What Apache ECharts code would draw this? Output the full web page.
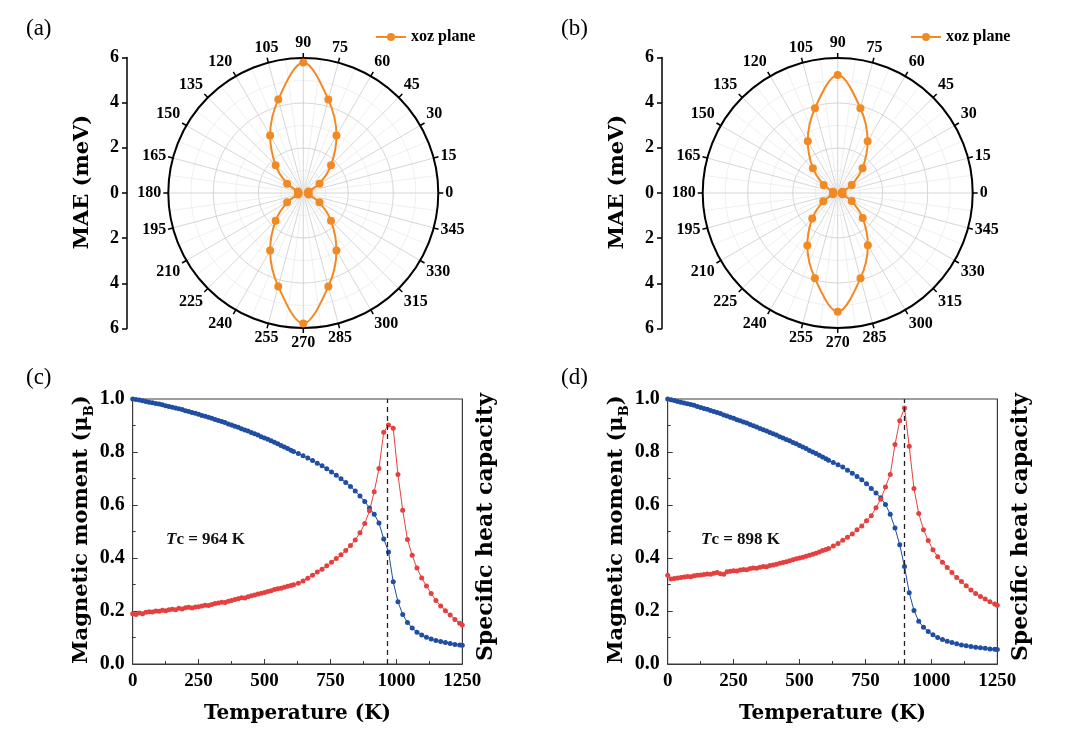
<!DOCTYPE html>
<html><head><meta charset="utf-8">
<script src="https://cdn.jsdelivr.net/npm/echarts@6/dist/echarts.min.js"></script>
<style>html,body{margin:0;padding:0;background:#fff}#c{width:1080px;height:733px}</style>
</head><body><div id="c"></div><script>
// ---------- data ----------
const angles = [0,15,30,45,60,75,90,105,120,135,150,165,180,195,210,225,240,255,270,285,300,315,330,345,360];
const maeA   = [0.2,0.25,0.83,1.74,2.95,4.3,5.8,4.3,2.95,1.74,0.83,0.25,0.2,0.25,0.83,1.74,2.95,4.3,5.8,4.3,2.95,1.74,0.83,0.25,0.2];
const maeB   = [0.18,0.22,0.72,1.56,2.66,3.9,5.25,3.9,2.66,1.56,0.72,0.22,0.18,0.22,0.74,1.6,2.7,3.92,5.28,3.92,2.68,1.57,0.72,0.22,0.18];
const angleTicks = [0,15,30,45,60,75,90,105,120,135,150,165,180,195,210,225,240,255,270,285,300,315,330,345];
const maeTicks = [6,4,2,0,2,4,6];

const temps = [0,12.5,25,37.5,50,62.5,75,87.5,100,112.5,125,137.5,150,162.5,175,187.5,200,212.5,225,237.5,250,262.5,275,287.5,300,312.5,325,337.5,350,362.5,375,387.5,400,412.5,425,437.5,450,462.5,475,487.5,500,512.5,525,537.5,550,562.5,575,587.5,600,
  610,628,646,664,682,700,718,736,754,772,790,808,826,844,862,880,898,916,934,952,970,988,1006,1024,1042,1060,1078,1096,1114,1132,1150,1168,1186,1204,1222,1240,1250];

const momentC = [1.000,0.998,0.996,0.993,0.991,0.988,0.986,0.983,0.981,0.978,0.975,0.972,0.969,0.966,0.963,0.960,0.956,0.953,0.949,0.946,0.942,0.938,0.935,0.931,0.927,0.923,0.919,0.915,0.911,0.906,0.902,0.897,0.893,0.888,0.883,0.879,0.874,0.869,0.864,0.858,0.853,0.848,0.842,0.837,0.831,0.825,0.819,0.813,0.807,
  0.802,0.794,0.786,0.777,0.768,0.758,0.748,0.737,0.725,0.712,0.699,0.685,0.670,0.653,0.634,0.613,0.589,0.565,0.532,0.472,0.423,0.310,0.235,0.187,0.157,0.136,0.120,0.109,0.101,0.094,0.089,0.085,0.081,0.077,0.074,0.072,0.071];
const heatC = [0.190,0.187,0.192,0.190,0.195,0.197,0.196,0.200,0.199,0.203,0.201,0.205,0.207,0.205,0.210,0.208,0.212,0.214,0.211,0.215,0.216,0.219,0.222,0.221,0.225,0.228,0.230,0.233,0.232,0.237,0.240,0.243,0.246,0.250,0.249,0.254,0.258,0.260,0.264,0.267,0.270,0.274,0.276,0.281,0.284,0.286,0.290,0.293,0.296,
  0.299,0.305,0.313,0.324,0.335,0.347,0.358,0.371,0.384,0.398,0.412,0.428,0.447,0.468,0.495,0.530,0.578,0.650,0.738,0.875,0.902,0.890,0.715,0.580,0.470,0.410,0.362,0.325,0.294,0.266,0.240,0.219,0.201,0.185,0.168,0.154,0.147];
const momentD = [1.000,0.997,0.994,0.991,0.988,0.985,0.982,0.979,0.976,0.972,0.968,0.964,0.961,0.957,0.953,0.949,0.945,0.940,0.936,0.931,0.927,0.922,0.918,0.913,0.909,0.904,0.899,0.894,0.889,0.884,0.879,0.874,0.869,0.864,0.858,0.853,0.847,0.842,0.836,0.831,0.825,0.819,0.813,0.806,0.800,0.794,0.788,0.781,0.775,
  0.769,0.760,0.752,0.743,0.731,0.720,0.708,0.695,0.680,0.662,0.645,0.627,0.602,0.565,0.513,0.450,0.368,0.269,0.202,0.161,0.139,0.123,0.110,0.100,0.092,0.086,0.081,0.076,0.072,0.069,0.066,0.063,0.061,0.059,0.057,0.056,0.055];
const heatD = [0.335,0.321,0.323,0.325,0.326,0.328,0.330,0.329,0.333,0.335,0.336,0.338,0.340,0.339,0.342,0.345,0.341,0.339,0.348,0.350,0.352,0.351,0.355,0.357,0.356,0.360,0.362,0.361,0.365,0.368,0.367,0.372,0.374,0.376,0.380,0.383,0.386,0.390,0.393,0.397,0.400,0.403,0.407,0.410,0.414,0.418,0.423,0.428,0.432,
  0.436,0.445,0.455,0.467,0.478,0.491,0.507,0.521,0.541,0.559,0.590,0.622,0.668,0.715,0.828,0.918,0.966,0.822,0.662,0.568,0.507,0.466,0.431,0.405,0.384,0.364,0.345,0.326,0.311,0.295,0.279,0.266,0.255,0.245,0.235,0.226,0.222];
const tcC = 964, tcD = 898;
const tempTicks = [0,250,500,750,1000,1250];
const momentTicks = [0.0,0.2,0.4,0.6,0.8,1.0];

// ---------- style ----------
const SERIF = '"Liberation Serif","Times New Roman",serif';
const TSERIF = '"DejaVu Serif",serif';
const ORANGE = '#F28A24', BLUE = '#1F4EA2', RED = '#E5403E', AX = '#3a3a3a';

const chart = echarts.init(document.getElementById('c'), null, {renderer:'canvas'});
const zip = (xs, ys) => xs.map((x,i)=>[x, ys[i]]);
const polarData = (r) => angles.map((a,i)=>[r[i], a]);

const polarCenters = [[303.3,193],[837.7,193]];
const maeLeft = [127, 662];
const plotLeft = [132.7, 667.7];

function angleAxis(i){
  return {polarIndex:i, type:'value', min:0, max:360, interval:15, startAngle:0, clockwise:false,
    axisLine:{show:true, lineStyle:{color:'#000', width:2}},
    axisTick:{show:true, length:5, lineStyle:{color:'#000', width:1.5}},
    axisLabel:{margin:7, color:'#000', fontFamily:SERIF, fontWeight:'bold', fontSize:16,
      formatter:(v)=> angleTicks.indexOf(v) >= 0 ? String(v) : ''},
    splitLine:{show:true, lineStyle:{color:'#cccccc', width:0.8}},
    minorTick:{show:false, splitNumber:2},
    minorSplitLine:{show:true, lineStyle:{color:'#e4e4e4', width:0.6}}};
}
function radiusAxis(i){
  return {polarIndex:i, type:'value', min:0, max:6, interval:2,
    axisLine:{show:false}, axisTick:{show:false}, axisLabel:{show:false},
    splitLine:{show:true, lineStyle:{color:'#cccccc', width:0.8}},
    minorTick:{show:false, splitNumber:2},
    minorSplitLine:{show:true, lineStyle:{color:'#e4e4e4', width:0.6}}};
}
function maeAxis(g){
  return {gridIndex:g, type:'value', min:-6, max:6, interval:2,
    axisLine:{show:true, lineStyle:{color:'#000', width:1.5}},
    axisTick:{show:true, length:5, lineStyle:{color:'#000', width:1.5}},
    axisLabel:{margin:8, color:'#000', fontFamily:SERIF, fontWeight:'bold', fontSize:18,
      formatter:(v)=> String(maeTicks[Math.round((6 - v)/2)] !== undefined ? Math.abs(v) : '')},
    splitLine:{show:false},
    name:'MAE (meV)', nameLocation:'middle', nameGap:34, nameRotate:90,
    nameTextStyle:{color:'#000', fontFamily:TSERIF, fontWeight:'bold', fontSize:21, padding:[0,0,0,22]}};
}
function tempAxis(g){
  return {gridIndex:g, type:'value', min:0, max:1250, interval:250,
    axisLine:{show:true, lineStyle:{color:AX, width:1}},
    axisTick:{show:true, inside:true, length:5, lineStyle:{color:AX}},
    minorTick:{show:true, splitNumber:2, length:3, lineStyle:{color:AX}},
    axisLabel:{margin:8, color:'#000', fontFamily:SERIF, fontWeight:'bold', fontSize:19,
      formatter:(v)=> tempTicks.indexOf(v)>=0 ? String(v) : ''},
    splitLine:{show:false},
    name:'Temperature (K)', nameLocation:'middle', nameGap:40,
    nameTextStyle:{color:'#000', fontFamily:TSERIF, fontWeight:'bold', fontSize:20}};
}
function momentAxis(g){
  return {gridIndex:g, type:'value', min:0, max:1, interval:0.2,
    axisLine:{show:true, lineStyle:{color:AX, width:1}},
    axisTick:{show:true, inside:true, length:5, lineStyle:{color:AX}},
    minorTick:{show:true, splitNumber:2, length:3, lineStyle:{color:AX}},
    axisLabel:{margin:8, color:'#000', fontFamily:SERIF, fontWeight:'bold', fontSize:20,
      formatter:(v)=> v.toFixed(1)},
    splitLine:{show:false},
    name:'Magnetic moment (μ{sub|B})', nameLocation:'middle', nameGap:37, nameRotate:90,
    nameTextStyle:{color:'#000', fontFamily:TSERIF, fontWeight:'bold', fontSize:21, padding:[0,0,0,4],
      rich:{sub:{fontFamily:TSERIF, fontWeight:'bold', fontSize:13, verticalAlign:'bottom', lineHeight:28, color:'#000'}}}};
}
function heatAxis(g){
  return {gridIndex:g, type:'value', min:0, max:1, position:'right',
    axisLine:{show:true, lineStyle:{color:AX, width:1}},
    axisTick:{show:false}, axisLabel:{show:false}, splitLine:{show:false},
    name:'Specific heat capacity', nameLocation:'middle', nameGap:13, nameRotate:90,
    nameTextStyle:{color:'#000', fontFamily:TSERIF, fontWeight:'bold', fontSize:22, verticalAlign:'top', padding:[0,0,0,9]}};
}
function polarSeries(i, r){
  return {type:'line', name:'xoz plane', coordinateSystem:'polar', polarIndex:i, data:polarData(r),
    smooth:0.35, symbol:'circle', symbolSize:8, lineStyle:{width:2, color:ORANGE}, itemStyle:{color:ORANGE}, z:5};
}
function tSeries(name, xi, yi, vals, color, tc){
  const s = {type:'line', name:name, xAxisIndex:xi, yAxisIndex:yi, data:zip(temps, vals),
    symbol:'circle', symbolSize:5, showSymbol:true, showAllSymbol:true,
    lineStyle:{width:1, color:color}, itemStyle:{color:color}, z:3};
  if (tc !== undefined) {
    s.markLine = {silent:true, symbol:'none', label:{show:false}, animation:false,
      lineStyle:{type:[5,4], color:'#222', width:1.3}, data:[{xAxis:tc}]};
  }
  return s;
}
function tcLabel(x, y, tc){
  return {type:'text', x:x, y:y, z:10, style:{text:'{i|T}c = ' + tc + ' K', fill:'#111',
    fontFamily:SERIF, fontWeight:'bold', fontSize:17, verticalAlign:'middle',
    rich:{i:{fontStyle:'italic', fontWeight:'bold', fontFamily:SERIF, fontSize:17, fill:'#111'}}}};
}
function panelLabel(x, y, t){
  return {type:'text', x:x, y:y, style:{text:t, fill:'#000', fontFamily:SERIF, fontSize:23, verticalAlign:'middle'}};
}

const option = {
  animation:false,
  backgroundColor:'#fff',
  legend:[0,1].map(i=>({data:['xoz plane'], left: i===0 ? 370 : 905, top:24, itemWidth:30, itemHeight:10, itemGap:6,
    textStyle:{color:'#000', fontFamily:SERIF, fontWeight:'bold', fontSize:16}, selectedMode:false})),
  polar: polarCenters.map(c=>({center:c, radius:135})),
  angleAxis:[angleAxis(0), angleAxis(1)],
  radiusAxis:[radiusAxis(0), radiusAxis(1)],
  grid:[
    {left:maeLeft[0], top:57.5, width:1, height:271},
    {left:maeLeft[1], top:57.5, width:1, height:271},
    {left:plotLeft[0], top:399, width:329.6, height:265, show:true, borderColor:AX, borderWidth:1},
    {left:plotLeft[1], top:399, width:329.6, height:265, show:true, borderColor:AX, borderWidth:1}
  ],
  xAxis:[
    {gridIndex:0, type:'value', show:false, min:0, max:1},
    {gridIndex:1, type:'value', show:false, min:0, max:1},
    tempAxis(2), tempAxis(3)
  ],
  yAxis:[maeAxis(0), maeAxis(1), momentAxis(2), heatAxis(2), momentAxis(3), heatAxis(3)],
  series:[
    polarSeries(0, maeA), polarSeries(1, maeB),
    tSeries('Magnetic moment c', 2, 2, momentC, BLUE, tcC),
    tSeries('Specific heat c', 2, 3, heatC, RED),
    tSeries('Magnetic moment d', 3, 4, momentD, BLUE, tcD),
    tSeries('Specific heat d', 3, 5, heatD, RED)
  ],
  graphic:[
    panelLabel(26, 29, '(a)'), panelLabel(561, 29, '(b)'),
    panelLabel(26, 378, '(c)'), panelLabel(561, 378, '(d)'),
    tcLabel(166, 540, tcC), tcLabel(701, 540, tcD)
  ]
};
chart.setOption(option);
</script></body></html>
